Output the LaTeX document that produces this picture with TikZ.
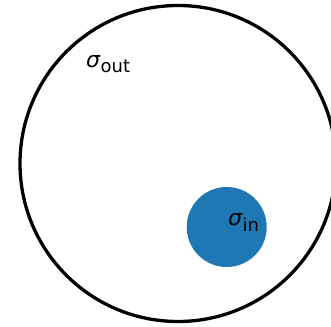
\documentclass[tikz,border=0pt]{standalone}
\usepackage{fontspec}
\setmainfont{DejaVu Sans}
\definecolor{tabblue}{HTML}{1F77B4}
\newcommand{\subtxt}[2]{\raisebox{#1}{\fontsize{18}{18}\selectfont #2}}
\begin{document}
\begin{tikzpicture}[
    x=1pt, y=-1pt,
    ring/.style={circle, draw=black, line width=3.3pt, inner sep=0pt, minimum size=316pt},
    blob/.style={circle, fill=tabblue, inner sep=0pt, minimum size=80pt},
    sigmalabel/.style={anchor=base west, inner sep=0pt, font=\fontsize{22}{22}\selectfont},
]
  \useasboundingbox (0,0) rectangle (331,326);

  % outer and inner regions
  \node[ring] (outer) at (178,163.5) {};
  \node[blob] (inner) at (226.7,227) {};

  % labels
  \node[sigmalabel] (sout) at (86,68) {\textit{σ}\subtxt{-5pt}{out}};
  \node[sigmalabel] (sin) at (228,225.5) {\textit{σ}\subtxt{-5.5pt}{in}};
\end{tikzpicture}
\end{document}
